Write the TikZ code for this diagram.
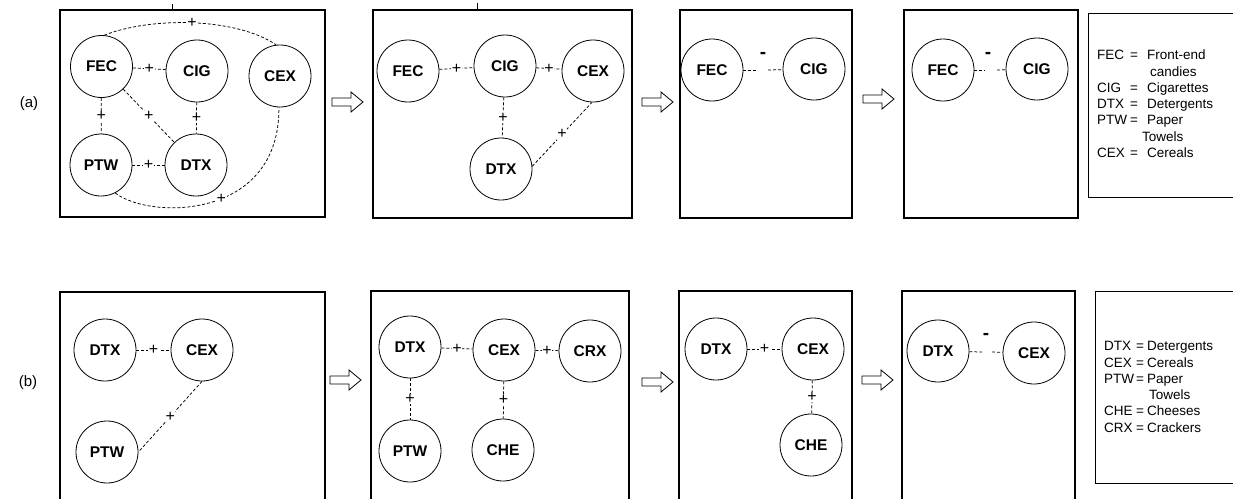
\documentclass[tikz,border=0pt]{standalone}
\usepackage{fontspec}
\setmainfont{Liberation Sans}
\begin{document}
\begin{tikzpicture}[x=1pt,y=-1pt,
  item/.style={circle,draw,line width=0.8pt,minimum size=62pt,inner sep=0pt,font=\fontsize{15.5}{15.5}\selectfont\bfseries},
  conn/.style={line width=0.75pt,dash pattern=on 3pt off 2pt},
  pluslbl/.style={fill=white,inner sep=0.6pt,font=\fontsize{16}{16}\selectfont},
  minuslbl/.style={inner sep=0pt,font=\fontsize{19}{19}\selectfont\bfseries},
  panel/.style={line width=2.8pt},
  legendbox/.style={line width=0.8pt},
  legendtxt/.style={anchor=base west,inner sep=0pt,font=\fontsize{13.5}{16.3}\selectfont},
  rowlbl/.style={inner sep=0pt,font=\fontsize{15}{15}\selectfont},
  blockarr/.pic={\draw[line width=0.8pt] (0,-4) -- (19,-4) -- (19,-10) -- (31,0) -- (19,10) -- (19,4) -- (0,4) -- cycle;}
]
\useasboundingbox (0,0) rectangle (1233,498);
\clip (0,0) rectangle (1233,498);

% ---------- row (a) ----------
\node[rowlbl] (la) at (29,104) {(a)};

\draw[panel] (60,10) rectangle (325,217);
\draw[line width=0.7pt] (172,4) -- (172,9);
\node[item] (a1F) at (101.5,66.5) {FEC};
\node[item] (a1C) at (197,71) {CIG};
\node[item] (a1X) at (280,76) {CEX};
\node[item] (a1P) at (101,165) {PTW};
\node[item] (a1D) at (196,165) {DTX};
\draw[conn] (a1F) -- node[pluslbl] {+} (a1C);
\draw[conn] (a1F) -- node[pluslbl] {+} (a1P);
\draw[conn] (a1F) -- node[pluslbl] {+} (a1D);
\draw[conn] (a1C) -- node[pluslbl] {+} (a1D);
\draw[conn] (a1P) -- node[pluslbl] {+} (a1D);
\draw[conn] (a1F.85) .. controls (150,17) and (235,17) .. node[pluslbl,pos=0.5] {+} (a1X.97);
\draw[conn] (a1P.-63) .. controls (150,220) and (280,220) .. node[pluslbl,pos=0.55] {+} (a1X.-92);

\pic at (332,102) {blockarr};

\draw[panel] (373,10) rectangle (632,218);
\draw[line width=0.7pt] (477,3) -- (477,9);
\node[item] (a2F) at (408,71) {FEC};
\node[item] (a2C) at (505,66) {CIG};
\node[item] (a2X) at (593,71) {CEX};
\node[item] (a2D) at (501,169) {DTX};
\draw[conn] (a2F) -- node[pluslbl] {+} (a2C);
\draw[conn] (a2C) -- node[pluslbl] {+} (a2X);
\draw[conn] (a2C) -- node[pluslbl] {+} (a2D);
\draw[conn] (a2D.5) -- node[pluslbl] {+} (a2X.268);

\pic at (642,102) {blockarr};

\draw[panel] (680,10) rectangle (852,218);
\node[item] (a3F) at (712,70) {FEC};
\node[item] (a3C) at (814,69) {CIG};
\coordinate (a3g1) at (757,70);
\coordinate (a3g2) at (768,70);
\draw[conn] (a3F) -- (a3g1);
\draw[conn] (a3g2) -- (a3C);
\node[minuslbl] (a3m) at (763,55) {-};

\pic at (863,99) {blockarr};

\draw[panel] (904,10) rectangle (1078,218);
\node[item] (a4F) at (943,70) {FEC};
\node[item] (a4C) at (1037,69) {CIG};
\coordinate (a4g1) at (985,70);
\coordinate (a4g2) at (997,70);
\draw[conn] (a4F) -- (a4g1);
\draw[conn] (a4g2) -- (a4C);
\node[minuslbl] (a4m) at (988,55) {-};

\draw[legendbox] (1088,13) rectangle (1250,197);
\node[legendtxt] (lega) at (1097,59.7) {\begin{tabular}[t]{@{}l@{\hspace{3pt}}c@{\hspace{9pt}}l@{}}
FEC & = & Front-end\\
 & & \hspace{3pt}candies\\
CIG & = & Cigarettes\\
DTX & = & Detergents\\
PTW & = & Paper\\
 & & \hspace{-5pt}Towels\\
CEX & = & Cereals
\end{tabular}};

% ---------- row (b) ----------
\node[rowlbl] (lb) at (28,383) {(b)};

\draw[panel] (60,292) rectangle (325,510);
\node[item] (b1D) at (105,350) {DTX};
\node[item] (b1X) at (202,350) {CEX};
\node[item] (b1P) at (107,452) {PTW};
\draw[conn] (b1D) -- node[pluslbl] {+} (b1X);
\draw[conn] (b1X.south) -- node[pluslbl] {+} (b1P.east);

\pic at (330,380) {blockarr};

\draw[panel] (371,291) rectangle (629,510);
\node[item] (b2D) at (410,347) {DTX};
\node[item] (b2X) at (504,350) {CEX};
\node[item] (b2R) at (590,351) {CRX};
\node[item] (b2P) at (410,451) {PTW};
\node[item] (b2H) at (503,450) {CHE};
\draw[conn] (b2D) -- node[pluslbl] {+} (b2X);
\draw[conn] (b2X) -- node[pluslbl] {+} (b2R);
\draw[conn] (b2D) -- node[pluslbl] {+} (b2P);
\draw[conn] (b2X) -- node[pluslbl] {+} (b2H);

\pic at (642,382) {blockarr};

\draw[panel] (679,291) rectangle (852,510);
\node[item] (b3D) at (716,349) {DTX};
\node[item] (b3X) at (813,349) {CEX};
\node[item] (b3H) at (811,445) {CHE};
\draw[conn] (b3D) -- node[pluslbl] {+} (b3X);
\draw[conn] (b3X) -- node[pluslbl] {+} (b3H);

\pic at (862,380) {blockarr};

\draw[panel] (902,291) rectangle (1075,510);
\node[item] (b4D) at (938,351) {DTX};
\node[item] (b4X) at (1034,353) {CEX};
\coordinate (b4g1) at (982,352);
\coordinate (b4g2) at (992,352);
\draw[conn] (b4D) -- (b4g1);
\draw[conn] (b4g2) -- (b4X);
\node[minuslbl] (b4m) at (986,336) {-};

\draw[legendbox] (1095,291) rectangle (1250,483);
\node[legendtxt] (legb) at (1104,350.7) {\begin{tabular}[t]{@{}l@{\hspace{2pt}}c@{\hspace{3pt}}l@{}}
DTX & = & Detergents\\
CEX & = & Cereals\\
PTW & = & Paper\\
 & & \hspace{2pt}Towels\\
CHE & = & Cheeses\\
CRX & = & Crackers
\end{tabular}};
\end{tikzpicture}
\end{document}
